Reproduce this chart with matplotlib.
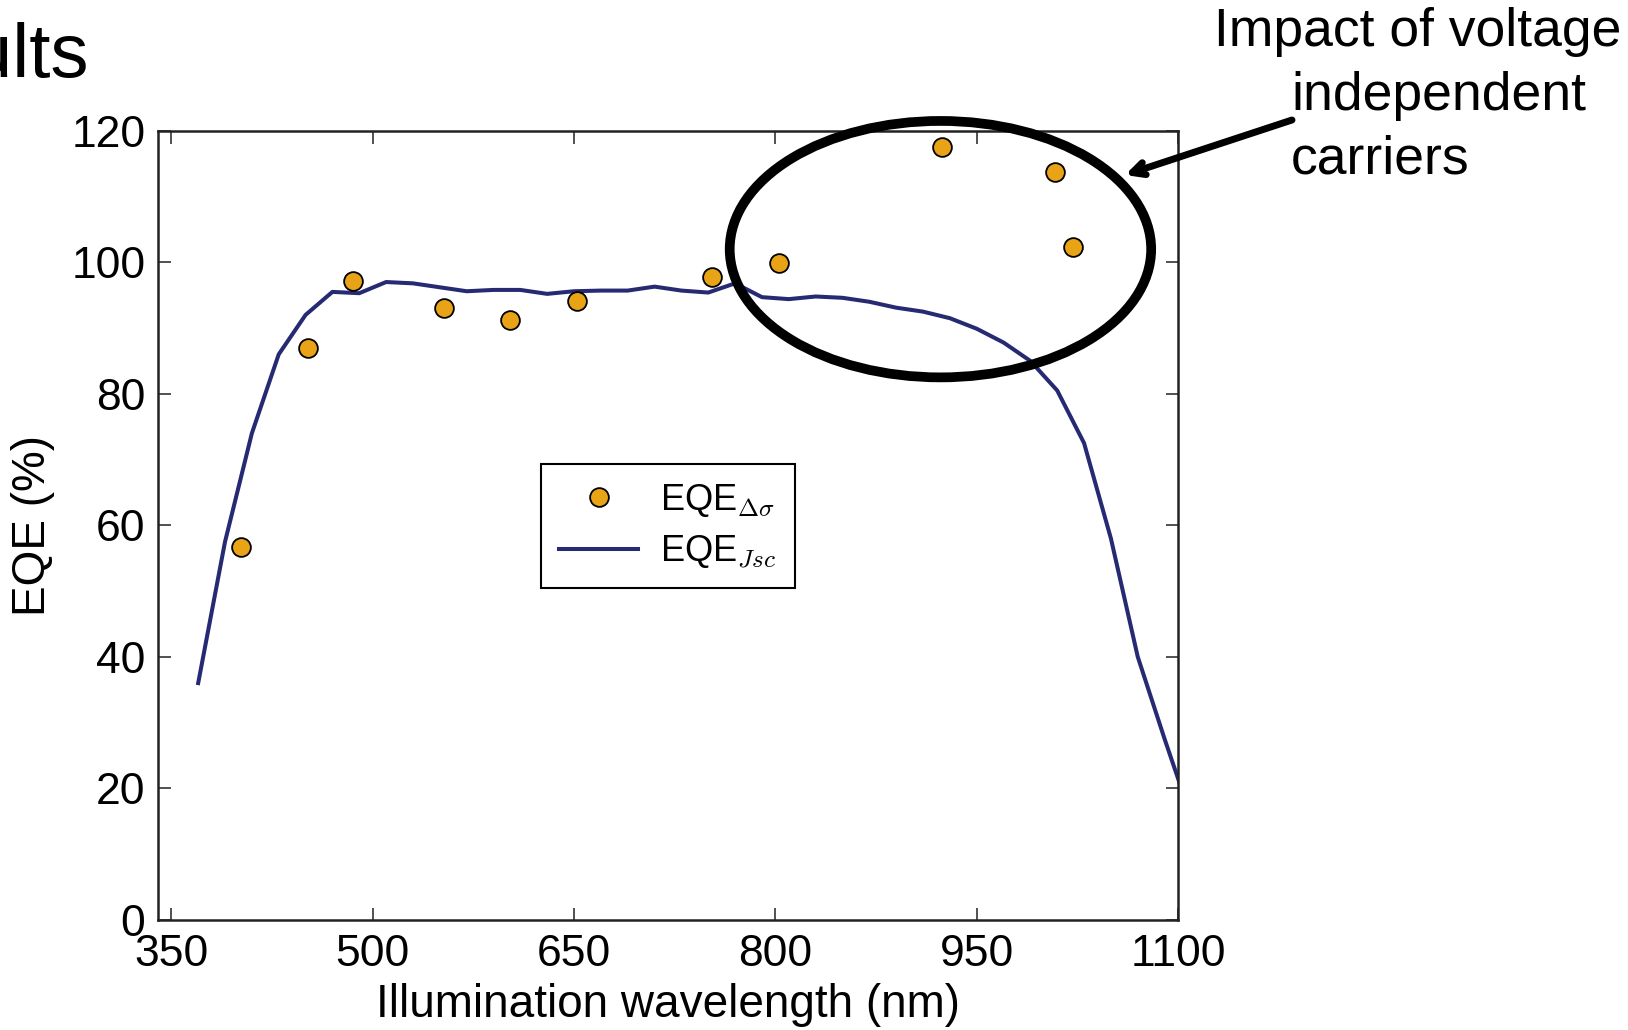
import matplotlib
matplotlib.use("Agg")
import matplotlib.pyplot as plt
from matplotlib.patches import Ellipse

plt.rcParams['font.family'] = ['Liberation Sans', 'DejaVu Sans']
plt.rcParams['mathtext.fontset'] = 'cm'

# EQE from the differential conductance measurement
wl_sigma = [402, 452, 485, 553, 602, 652, 753, 803, 924, 1008, 1022]
eqe_sigma = [56.7, 87.0, 97.2, 93.0, 91.2, 94.1, 97.8, 99.9, 117.6, 113.7, 102.4]

# EQE from short circuit current
wl_jsc = [370, 390, 410, 430, 450, 470, 490, 510, 530, 550, 570, 590, 610,
          630, 650, 670, 690, 710, 730, 750, 770, 790, 810, 830, 850, 870,
          890, 910, 930, 950, 970, 990, 1010, 1030, 1050, 1070, 1090, 1110]
eqe_jsc = [36.0, 57.5, 74.0, 86.0, 92.0, 95.5, 95.3, 97.0, 96.8, 96.2, 95.6,
           95.8, 95.8, 95.2, 95.6, 95.7, 95.7, 96.3, 95.7, 95.4, 96.8, 94.7,
           94.4, 94.8, 94.6, 94.0, 93.1, 92.5, 91.5, 89.9, 87.8, 85.0, 80.5,
           72.5, 58.0, 40.0, 27.5, 15.5]

xticks = [350, 500, 650, 800, 950, 1100]
yticks = [0, 20, 40, 60, 80, 100, 120]

fig = plt.figure(figsize=(16.28, 10.30), dpi=100)
ax = fig.add_axes([0.097, 0.107, 0.6266, 0.766])

ax.plot(wl_jsc, eqe_jsc, color='#262a72', lw=2.9, label=r'EQE$_{Jsc}$', zorder=2)
ax.plot(wl_sigma, eqe_sigma, 'o', ms=13.5, mfc='#e8a317', mec='black', mew=1.3,
        label=r'EQE$_{\Delta\sigma}$', zorder=3)

ax.set_xlim(340, 1100)
ax.set_ylim(0, 120)
ax.set_xticks(xticks)
ax.set_yticks(yticks)
ax.tick_params(direction='in', length=9, width=1.2, top=True, right=True,
               labelsize=32, color='#333333')
ax.tick_params(axis='x', pad=10)
ax.tick_params(axis='y', pad=9)
for s in ax.spines.values():
    s.set_linewidth(1.8)
    s.set_color('#222222')

ax.set_xlabel('Illumination wavelength (nm)', fontsize=33, labelpad=6)
ax.set_ylabel('EQE (%)', fontsize=33, labelpad=12)

# points first in the legend
handles, labels = ax.get_legend_handles_labels()
leg = ax.legend(handles[::-1], labels[::-1], loc='upper left',
                bbox_to_anchor=(0.3755, 0.578), borderaxespad=0, fontsize=26,
                fancybox=False, framealpha=1, edgecolor='black',
                handlelength=2.2, handletextpad=0.6, numpoints=1,
                borderpad=0.5, labelspacing=0.4)
leg.get_frame().set_linewidth(1.5)

# highlight around the high-EQE points
ax.add_patch(Ellipse((923, 102), 314, 39, fill=False, ec='black', lw=7,
                     clip_on=False, zorder=4))

# callout text and arrow
fig.text(1418 / 1628, 1 - 32 / 1030, 'Impact of voltage', fontsize=38.5,
         ha='center', va='center')
fig.text(1291 / 1628, 1 - 96 / 1030, 'independent', fontsize=38.5,
         ha='left', va='center')
fig.text(1291 / 1628, 1 - 159 / 1030, 'carriers', fontsize=38.5,
         ha='left', va='center')
ax.annotate('', xy=(1125 / 1628, 1 - 175 / 1030), xycoords='figure fraction',
            xytext=(1292 / 1628, 1 - 120 / 1030), textcoords='figure fraction',
            arrowprops=dict(arrowstyle='->,head_length=0.9,head_width=0.45',
                            lw=5, color='black', shrinkA=0, shrinkB=0),
            annotation_clip=False)

# slide heading, cut off at the left edge
fig.text(89 / 1628, 1 - 77 / 1030, 'Results', fontsize=55, ha='right',
         va='baseline')

fig.savefig('out.png', dpi=100)
